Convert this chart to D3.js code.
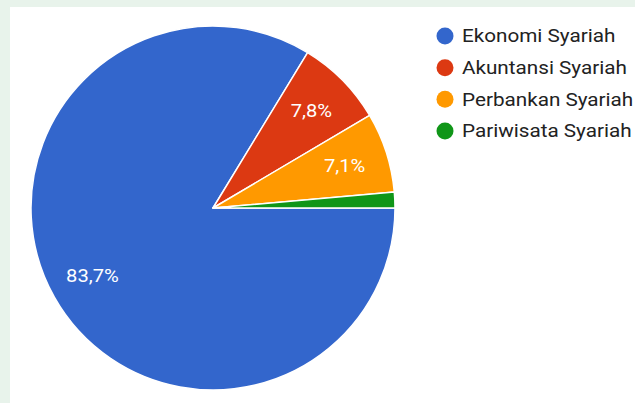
<!DOCTYPE html>
<html>
  <head>
    <meta charset="utf-8">
    <title>Program studi</title>
    <script src="https://cdn.jsdelivr.net/npm/d3@7"></script>
    <style>
      body { margin: 0; background: #e8f3eb; }
      #chart { display: block; }
      text { font-family: Roboto, "Noto Sans", sans-serif; }
    </style>
  </head>
  <body>
    <svg id="chart" width="635" height="403"></svg>

    <script>
      // data
      categories = ["Ekonomi Syariah", "Akuntansi Syariah", "Perbankan Syariah", "Pariwisata Syariah"];
      shares = [83.7, 7.8, 7.1, 1.4];
      shareLabels = ["83,7%", "7,8%", "7,1%", ""];
      colours = ["#3366cc", "#dc3912", "#ff9900", "#109618"];

      chart = d3.select("#chart");

      // card background
      chart.append("rect")
        .attr("x", 10)
        .attr("y", 7)
        .attr("width", 625)
        .attr("height", 396)
        .attr("fill", "#ffffff");

      colour = d3.scaleOrdinal()
        .domain(categories)
        .range(colours);

      cx = 213;
      cy = 208;
      radius = 182;

      pie = d3.pie()
        .sort(null)
        .startAngle(Math.PI / 2)
        .endAngle(Math.PI / 2 + 2 * Math.PI)
        .value(function(d, i) { return shares[i]; });

      arc = d3.arc()
        .innerRadius(0)
        .outerRadius(radius);

      labelArc = d3.arc()
        .innerRadius(radius * 0.76)
        .outerRadius(radius * 0.76);

      arcs = pie(categories);

      pieGroup = chart.append("g")
        .attr("transform", "translate(" + cx + ", " + cy + ")");

      pieGroup.selectAll(".slice")
          .data(arcs)
        .enter().append("path")
          .attr("class", "slice")
          .attr("d", arc)
          .attr("fill", function(d) { return colour(d.data); })
          .attr("stroke", "#ffffff")
          .attr("stroke-width", 1.5)
          .attr("stroke-linejoin", "round");

      // screenshot is a little stretched sideways
      pieGroup.selectAll(".share")
          .data(arcs)
        .enter().append("text")
          .attr("class", "share")
          .attr("transform", function(d) { return "translate(" + labelArc.centroid(d) + ") scale(1.12, 1)"; })
          .attr("text-anchor", "middle")
          .attr("dy", "0.36em")
          .attr("fill", "#ffffff")
          .style("font-size", "18px")
          .text(function(d, i) { return shareLabels[i]; });

      // legend
      legendY = d3.scalePoint()
        .domain(categories)
        .range([36, 131]);

      keys = chart.append("g").selectAll(".key")
          .data(categories)
        .enter().append("g")
          .attr("class", "key")
          .attr("transform", function(d) { return "translate(445, " + legendY(d) + ")"; });

      keys.append("circle")
        .attr("r", 8.5)
        .attr("fill", function(d) { return colour(d); });

      keys.append("text")
        .attr("transform", "translate(17, 0) scale(1.15, 1)")
        .attr("dy", "0.36em")
        .attr("fill", "#222222")
        .style("font-size", "18px")
        .text(function(d) { return d; });
    </script>
  </body>
</html>
